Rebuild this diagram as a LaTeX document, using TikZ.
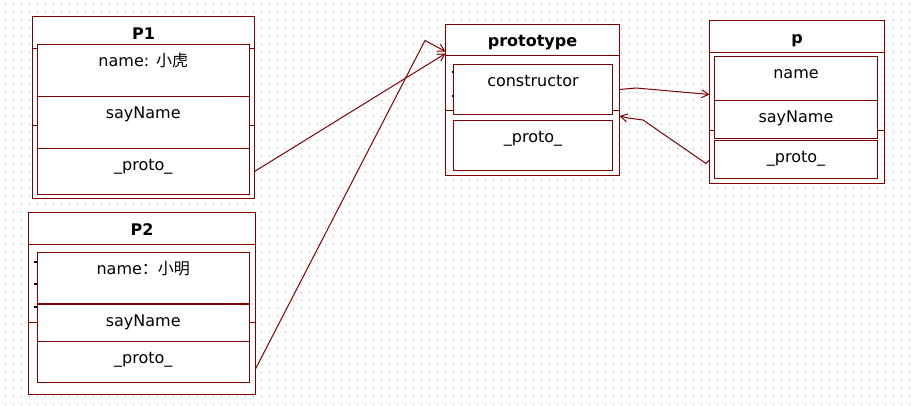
\documentclass[tikz,border=0pt]{standalone}
\usepackage{fontspec}
\setmainfont{DejaVu Sans}
\newfontfamily\cjk{Noto Sans CJK SC}
\usetikzlibrary{positioning,calc,arrows.meta}
\definecolor{boxred}{RGB}{128,0,0}
\definecolor{dotgray}{RGB}{176,176,176}

\begin{document}
\begin{tikzpicture}
	[x=1pt,y=-1pt,
	every node/.style={inner sep=0pt,outer sep=0pt},
	outer/.style={rectangle,draw=boxred,fill=white,line width=1pt,anchor=north west},
	cell/.style={outer,minimum width=#1},
	cell/.default=211.5pt,
	sep/.style={draw=boxred,line width=1pt},
	txt/.style={anchor=base,font=\fontsize{16}{19}\selectfont},
	title/.style={anchor=base,font=\fontsize{16}{19}\selectfont\bfseries},
	link/.style={draw=boxred,line width=1pt,-{Straight Barb[length=7pt,width=8pt]}},
	griddot/.style={draw=dotgray,line width=1pt,dash pattern=on 1pt off 7pt}]
	\useasboundingbox[fill=white] (0,0) rectangle (912,406);
	\foreach \y in {4.5,12.5,...,404.5}
		\draw[griddot] (4.5,\y) -- (912,\y);

	\node[outer,minimum width=222pt,minimum height=181.5pt] (P1) at (32.5,16.5) {};
	\draw[sep] ([yshift=-32pt]P1.north west) -- ([yshift=-32pt]P1.north east);
	\draw[sep] ([yshift=-109.5pt]P1.north west) -- ([yshift=-109.5pt]P1.north east);
	\node[cell,minimum height=52pt] (nm1) at (37.5,44.5) {};
	\node[cell,minimum height=52pt,below=0pt of nm1] (sn1) {};
	\node[cell,minimum height=46pt,below=0pt of sn1] (pr1) {};
	\node[title] (tP1) at ([yshift=-23pt]P1.north) {P1};
	\node[txt] (tnm1) at ([yshift=-22.5pt]nm1.north) {name: {\cjk 小虎}};
	\node[txt] (tsn1) at ([yshift=-22.5pt]sn1.north) {sayName};
	\node[txt] (tpr1) at ([yshift=-22pt]pr1.north) {\_proto\_};

	\node[outer,minimum width=227pt,minimum height=182pt] (P2) at (28.5,212.5) {};
	\draw[sep] ([yshift=-32pt]P2.north west) -- ([yshift=-32pt]P2.north east);
	\draw[sep] ([yshift=-110pt]P2.north west) -- ([yshift=-110pt]P2.north east);
	\node[cell,minimum height=51pt] (nm2) at (37.5,252.5) {};
	\node[cell,minimum height=37pt,below=1pt of nm2] (sn2) {};
	\node[cell,minimum height=41pt,below=0pt of sn2] (pr2) {};
	\node[title] (tP2) at ([yshift=-23pt]P2.north) {P2};
	\node[txt] (tnm2) at ([yshift=-22pt]nm2.north) {name{\cjk ：小明}};
	\node[txt] (tsn2) at ([yshift=-22pt]sn2.north) {sayName};
	\node[txt] (tpr2) at ([yshift=-22pt]pr2.north) {\_proto\_};
	\fill (33.5,260.5) rectangle +(3,2);
	\fill (33.5,283) rectangle +(3,2);
	\fill (33.5,305.5) rectangle +(3,2);

	\node[outer,minimum width=174pt,minimum height=151pt] (pt) at (445.5,24.5) {};
	\draw[sep] ([yshift=-31.5pt]pt.north west) -- ([yshift=-31.5pt]pt.north east);
	\draw[sep] ([yshift=-86.5pt]pt.north west) -- ([yshift=-86.5pt]pt.north east);
	\node[cell=159pt,minimum height=50pt] (cs) at (453.5,64.5) {};
	\node[cell=159pt,minimum height=50pt,below=6pt of cs] (pp) {};
	\node[title] (tpt) at ([yshift=-22pt]pt.north) {prototype};
	\node[txt] (tcs) at ([yshift=-22pt]cs.north) {constructor};
	\node[txt] (tpp) at ([yshift=-22pt]pp.north) {\_proto\_};
	\fill (451.5,71.5) rectangle +(2,2);
	\fill (451.5,95) rectangle +(2,2);

	\node[outer,minimum width=175pt,minimum height=163pt] (p) at (709.5,20.5) {};
	\draw[sep] ([yshift=-32pt]p.north west) -- ([yshift=-32pt]p.north east);
	\draw[sep] ([yshift=-110pt]p.north west) -- ([yshift=-110pt]p.north east);
	\node[cell=163pt,minimum height=44pt] (pn) at (714.5,56.5) {};
	\node[cell=163pt,minimum height=38pt,below=0pt of pn] (ps) {};
	\node[cell=163pt,minimum height=38.5pt,below=2pt of ps] (pq) {};
	\node[title] (tp) at ([yshift=-23pt]p.north) {p};
	\node[txt] (tpn) at ([yshift=-22pt]pn.north) {name};
	\node[txt] (tps) at ([yshift=-22pt]ps.north) {sayName};
	\node[txt] (tpq) at ([yshift=-22pt]pq.north) {\_proto\_};

	\coordinate (k2) at (425,40.5);
	\coordinate (k3) at (636,88);
	\coordinate (k4) at (706,163.5);
	\coordinate (k5) at (643,120);
	\coordinate (k6) at (628,118);
	\draw[link] (P1.east |- pr1.east) -- ([yshift=-29pt]pt.north west);
	\draw[link] ($(P2.east |- pr2.east)+(0,7)$) -- (k2) -- ([yshift=-27pt]pt.north west);
	\draw[link] (pt.east |- cs.east) -- (k3) -- ([yshift=-74pt]p.north west);
	\draw[link] (p.west |- pq.west) -- (k4) -- (k5) -- (k6) -- ([yshift=-91.5pt]pt.north east);
\end{tikzpicture}
\end{document}
